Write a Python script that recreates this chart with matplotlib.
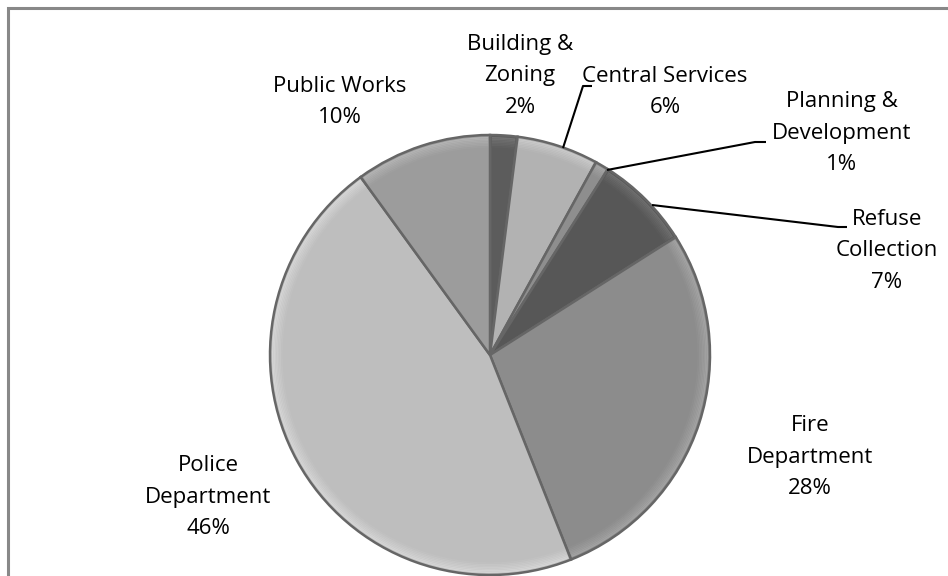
import matplotlib
matplotlib.use("Agg")
import matplotlib.pyplot as plt
from matplotlib.patches import Wedge
import numpy as np

# Budget share by department (clockwise from 12 o'clock)
departments = ["Building &\nZoning", "Central Services", "Planning &\nDevelopment",
               "Refuse\nCollection", "Fire\nDepartment", "Police\nDepartment", "Public Works"]
shares = [2, 6, 1, 7, 28, 46, 10]
pct_labels = ["2%", "6%", "1%", "7%", "28%", "46%", "10%"]
slice_colors = ["#5c5c5c", "#b2b2b2", "#8e8e8e", "#575757", "#8c8c8c", "#bebebe", "#9c9c9c"]

W, H = 948, 576
fig = plt.figure(figsize=(W / 100, H / 100), dpi=100)
ax = fig.add_axes([0, 0, 1, 1])

cx, cy, R = 490, H - 355, 220

wedges, _ = ax.pie(shares, colors=slice_colors, startangle=90, counterclock=False,
                   center=(cx, cy), radius=R,
                   wedgeprops=dict(edgecolor="#666666", linewidth=1.8))

# soft bevel: lighter rim band fading into each slice's base colour
for w, col in zip(wedges, slice_colors):
    base = np.array(matplotlib.colors.to_rgb(col))
    light = np.clip(base + 0.09, 0, 1)
    for k in range(7):
        r_out = R - 2 - k * 1.5
        shade = light * (1 - k / 7) + base * (k / 7)
        ax.add_patch(Wedge((cx, cy), r_out, w.theta1 + 0.5, w.theta2 - 0.5,
                           width=1.6, facecolor=shade, edgecolor="none", zorder=2))

ax.set_xlim(0, W)
ax.set_ylim(0, H)
ax.axis("off")

font = dict(family="Open Sans", fontsize=16, color="black", linespacing=1.63)

# label centers (name, percent)
label_pos = [(520, 76), (665, 92), (842, 133), (887, 251), (810, 457), (208, 497), (340, 102)]
for name, pct, (x, y) in zip(departments, pct_labels, label_pos):
    ax.text(x, H - y, name + "\n" + pct, ha="center", va="center", **font)

# leader lines
leaders = [
    [(563, 148), (583, 86), (592, 86)],
    [(607, 170), (755, 142), (766, 142)],
    [(652, 205), (838, 227), (847, 227)],
]
for pts in leaders:
    xs = [p[0] for p in pts]
    ys = [H - p[1] for p in pts]
    ax.plot(xs, ys, color="black", linewidth=1.5, zorder=5, solid_capstyle="butt")

# chart frame
ax.plot([8.5, 8.5, W], [0, H - 7.5, H - 7.5], color="#888888", linewidth=2.2,
        solid_joinstyle="miter", zorder=6)

fig.savefig("out.png", dpi=100, facecolor="white")
